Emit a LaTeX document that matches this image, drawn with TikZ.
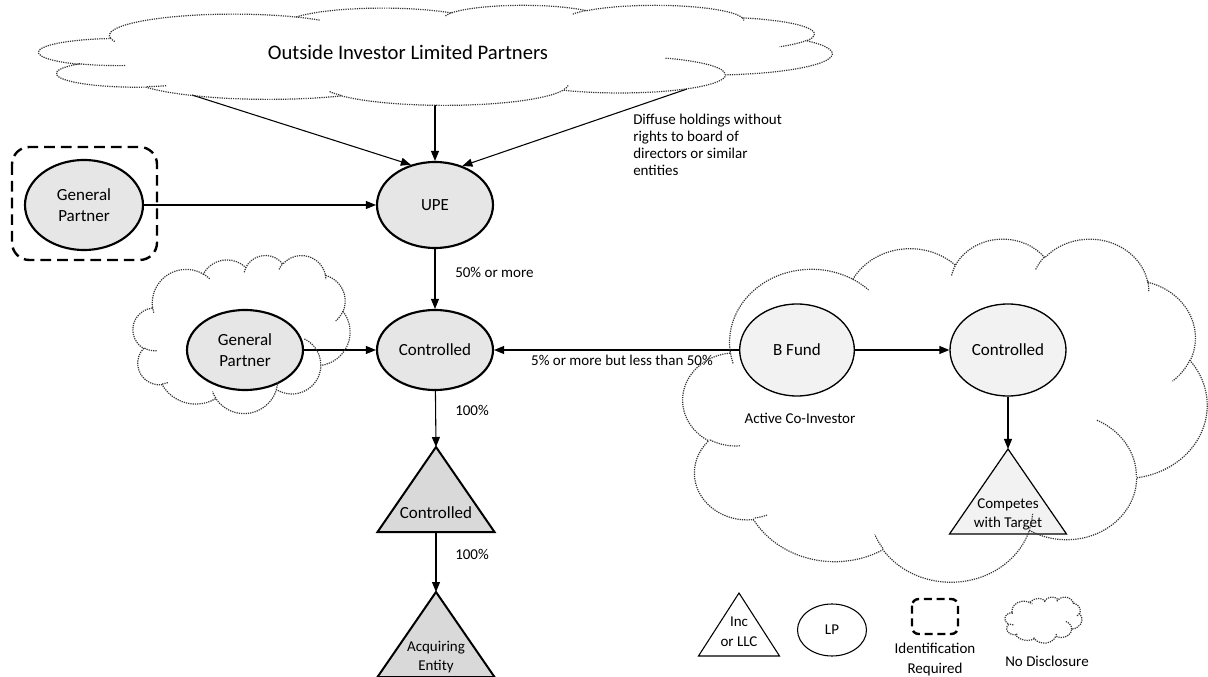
\documentclass[tikz,border=0pt]{standalone}
\usepackage{fontspec}
\setmainfont{Carlito}
\usetikzlibrary{shapes.geometric, arrows.meta}
\definecolor{ellfill}{HTML}{E6E6E6}
\definecolor{bfill}{HTML}{F2F2F2}
\definecolor{trifill}{HTML}{D9D9D9}
% DrawingML-style arc (visual angles converted to parametric)
\newcommand\ca[4]{arc[x radius=#1, y radius=#2, start angle={atan2(#1*sin(#3),#2*cos(#3))}, delta angle={mod(atan2(#1*sin(#3+#4),#2*cos(#3+#4))-atan2(#1*sin(#3),#2*cos(#3))+720,360)}]}
\newcommand\officecloud[4]{%
  \begin{scope}[shift={(#1,#2)}, xscale=#3/432, yscale=#4/432]
    \draw[cloudline] (39,143.7)
      \ca{67.53}{91.90}{-190.4875}{123.7805}
      \ca{53.33}{72.67}{-144.1024}{89.9452}
      \ca{43.65}{59.45}{-145.8079}{99.7230}
      \ca{48.57}{65.95}{-130.9861}{117.2417}
      \ca{53.33}{72.73}{-78.7089}{109.0269}
      \ca{67.75}{92.20}{-46.2673}{130.2690}
      \ca{57.85}{78.67}{0.6250}{114.0333}
      \ca{67.52}{92.15}{22.4516}{115.1726}
      \ca{77.20}{105.43}{66.2426}{75.7110}
      \ca{43.60}{59.18}{-274.9421}{146.7356}
      \ca{43.45}{59.45}{-246.8285}{152.5189} -- cycle;
    \draw[cloudline]
      (46.93,261.77) \ca{43.45}{59.45}{86.7420}{26.4295}
      (69.28,348.99) \ca{43.60}{59.18}{73.6105}{11.4475}
      (164.78,390.90) \ca{67.52}{92.15}{137.6242}{14.0811}
      (288.27,347.51) \ca{67.52}{92.15}{6.4533}{15.9984}
      (341.29,229.54) \ca{57.85}{78.67}{-70.2924}{70.9174}
      (417.98,153.54) \ca{53.33}{72.73}{30.3180}{27.7515}
      (383.24,54.26) \ca{48.57}{65.95}{-13.7443}{14.8589}
      (290.78,39.52) \ca{48.57}{65.95}{-149.1815}{18.1954}
      (221.41,47.20) \ca{43.65}{59.45}{-163.4943}{17.6864}
      (140.00,51.92) \ca{67.53}{91.90}{-66.7070}{12.3194}
      (41.27,157.89) \ca{67.53}{91.90}{157.6544}{11.8582};
  \end{scope}}
\begin{document}
\begin{tikzpicture}[x=0.75pt, y=0.75pt, yscale=-1,
  big/.style={font=\fontsize{12.75pt}{15.75pt}\selectfont},
  small/.style={font=\fontsize{11.25pt}{12.75pt}\selectfont},
  ell/.style={ellipse, draw, line width=1.6pt, fill=ellfill, inner sep=0pt, align=center, big},
  ellb/.style={ellipse, draw, line width=1pt, fill=bfill, inner sep=0pt, align=center, big},
  tri/.style={draw, line width=1.5pt, fill=trifill, line join=miter},
  trib/.style={draw, line width=0.9pt, fill=bfill, line join=miter},
  lbl/.style={small, inner sep=0pt, align=center},
  arr/.style={draw, line width=0.8pt, -{Triangle[length=7.5pt,width=6pt]}},
  cloudline/.style={draw=black!80, line width=0.9pt, dash pattern=on 0.9pt off 0.8pt},
  idbox/.style={draw, line width=1.8pt, dash pattern=on 8pt off 4.5pt, rounded corners=13pt}]
\useasboundingbox (0,0) rectangle (1208,677);

% ---- nodes
\node[ell, minimum width=88.5pt, minimum height=67.5pt] (GP1) at (84,205) {General\\Partner};
\node[ell, minimum width=87pt, minimum height=64.5pt] (UPE) at (435,205) {UPE};
\node[ell, minimum width=87pt, minimum height=60pt] (C1) at (435,350) {Controlled};
\node[ell, minimum width=87pt, minimum height=60pt] (GP2) at (245,350) {General\\Partner};
\node[ellb, minimum width=86pt, minimum height=69pt] (BF) at (797,350) {B Fund};
\node[ellb, minimum width=87pt, minimum height=69pt] (C2) at (1008,350) {Controlled};

% identification box around top GP
\draw[idbox] (12,147) rectangle (157,260);

% triangles
\coordinate (T1apex) at (436,447);
\coordinate (T1base) at (436,532);
\draw[tri] (T1apex) -- (494.5,532) -- (377.5,532) -- cycle;
\node[big, inner sep=0pt] (T1) at (436,513) {Controlled};

\coordinate (T2apex) at (436,592);
\draw[tri] (T2apex) -- (494.5,677) -- (377.5,677) -- cycle;
\node[lbl, font=\fontsize{11.25pt}{14.25pt}\selectfont] (T2) at (436,657.5) {Acquiring\\Entity};

\coordinate (T3apex) at (1008,449);
\draw[trib] (T3apex) -- (1066.5,534) -- (949.5,534) -- cycle;
\node[lbl, font=\fontsize{11.25pt}{14.25pt}\selectfont] (T3) at (1008,514.5) {Competes\\with Target};

% title
\node[inner sep=0pt, font=\fontsize{15.5pt}{18pt}\selectfont] (OI) at (408,52) {Outside Investor Limited Partners};
\coordinate (cl1) at (192,95);
\coordinate (cl2) at (435,105);
\coordinate (cl3) at (687,89);

% labels
\node[small, inner sep=0pt, align=left, anchor=west, font=\fontsize{11.25pt}{12.75pt}\selectfont] (DH) at (633,145) {Diffuse holdings without\\rights to board of\\directors or similar\\entities};
\node[lbl, anchor=west] (L50) at (455,272) {50\% or more};
\node[lbl, anchor=west] (L100a) at (455,410) {100\%};
\node[lbl, anchor=west] (L100b) at (455,554) {100\%};
\node[lbl] (L5) at (622,360) {5\% or more but less than 50\%};
\node[lbl] (ACI) at (800,418) {Active Co-Investor};

% connectors
\draw[arr] (cl1) -- (UPE.121);
\draw[arr] (cl2) -- (UPE.north);
\draw[arr] (cl3) -- (UPE.55);
\draw[arr] (GP1) -- (UPE);
\draw[arr] (UPE) -- (C1);
\draw[arr] (GP2) -- (C1);
\draw[arr] (BF) -- (C1);
\draw[arr] (BF) -- (C2);
\draw[arr] (C2) -- (T3apex);
\draw[arr] (C1) -- (T1apex);
\draw[arr] (T1base) -- (T2apex);

% clouds (drawn on top, unfilled)
\officecloud{39}{5}{793}{100}
\officecloud{133}{255}{217}{158}
\officecloud{683}{238}{524}{343}
\officecloud{1005}{597}{77}{46}

% legend
\coordinate (LTapex) at (739,593);
\draw[line width=0.8pt] (LTapex) -- (779.5,656) -- (698.5,656) -- cycle;
\node[lbl, font=\fontsize{11.25pt}{15pt}\selectfont] (LT) at (739,632) {Inc\\or LLC};
\node[ellipse, draw, line width=0.8pt, minimum width=51.75pt, minimum height=39pt, inner sep=0pt, small] (LP) at (832,630) {LP};
\draw[idbox, rounded corners=5pt, dash pattern=on 6pt off 3.5pt] (912,599) rectangle (958,634);
\node[lbl, font=\fontsize{11.25pt}{15pt}\selectfont] (LID) at (935,659) {Identification\\Required};
\node[lbl] (LND) at (1047,661) {No Disclosure};
\end{tikzpicture}
\end{document}
